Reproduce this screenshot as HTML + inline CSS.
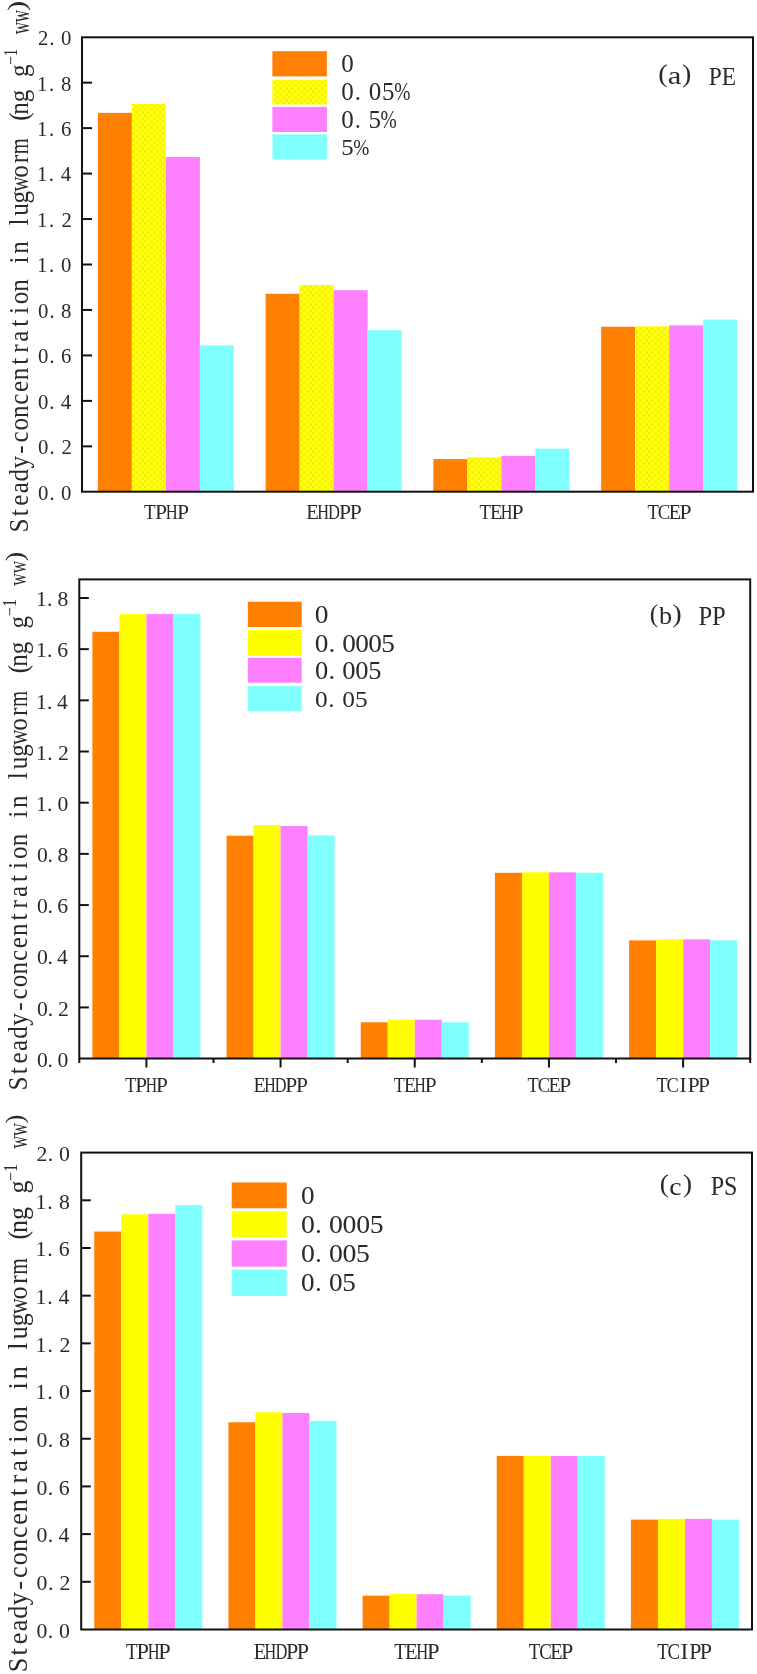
<!DOCTYPE html>
<html><head><meta charset="utf-8"><style>
html,body{margin:0;padding:0;background:#fff;}
body{width:757px;height:1674px;overflow:hidden;font-family:"Liberation Serif",serif;}
svg{display:block;will-change:transform;}
text{font-family:"Liberation Serif",serif;font-kerning:none;}
</style></head><body>
<svg width="757" height="1674" viewBox="0 0 757 1674">
<defs><pattern id="dots" width="6" height="6" patternUnits="userSpaceOnUse"><rect width="6" height="6" fill="#FFFF18"/><rect x="0" y="0" width="3" height="3" fill="#F8F400"/><rect x="3" y="3" width="3" height="3" fill="#F8F400"/></pattern></defs>
<rect width="757" height="1674" fill="#fff"/>
<g font-family="Liberation Serif" fill="#2a2a2a">
<rect x="97.88" y="112.89" width="34.00" height="378.81" fill="#FF8000"/>
<rect x="131.88" y="103.80" width="34.00" height="387.90" fill="url(#dots)"/>
<rect x="165.88" y="156.99" width="34.00" height="334.71" fill="#FF80FF"/>
<rect x="199.88" y="345.42" width="34.00" height="146.28" fill="#80FFFF"/>
<rect x="265.62" y="293.82" width="34.00" height="197.88" fill="#FF8000"/>
<rect x="299.62" y="284.96" width="34.00" height="206.74" fill="url(#dots)"/>
<rect x="333.62" y="290.18" width="34.00" height="201.52" fill="#FF80FF"/>
<rect x="367.62" y="330.19" width="34.00" height="161.51" fill="#80FFFF"/>
<rect x="433.38" y="459.07" width="34.00" height="32.63" fill="#FF8000"/>
<rect x="467.38" y="457.25" width="34.00" height="34.45" fill="url(#dots)"/>
<rect x="501.38" y="455.89" width="34.00" height="35.81" fill="#FF80FF"/>
<rect x="535.38" y="448.61" width="34.00" height="43.09" fill="#80FFFF"/>
<rect x="601.12" y="326.78" width="34.00" height="164.92" fill="#FF8000"/>
<rect x="635.12" y="326.33" width="34.00" height="165.37" fill="url(#dots)"/>
<rect x="669.12" y="325.42" width="34.00" height="166.28" fill="#FF80FF"/>
<rect x="703.12" y="319.51" width="34.00" height="172.19" fill="#80FFFF"/>
<line x1="82.00" y1="446.34" x2="92.00" y2="446.34" stroke="#111" stroke-width="2.0"/>
<line x1="82.00" y1="400.88" x2="92.00" y2="400.88" stroke="#111" stroke-width="2.0"/>
<line x1="82.00" y1="355.42" x2="92.00" y2="355.42" stroke="#111" stroke-width="2.0"/>
<line x1="82.00" y1="309.96" x2="92.00" y2="309.96" stroke="#111" stroke-width="2.0"/>
<line x1="82.00" y1="264.50" x2="92.00" y2="264.50" stroke="#111" stroke-width="2.0"/>
<line x1="82.00" y1="219.04" x2="92.00" y2="219.04" stroke="#111" stroke-width="2.0"/>
<line x1="82.00" y1="173.58" x2="92.00" y2="173.58" stroke="#111" stroke-width="2.0"/>
<line x1="82.00" y1="128.12" x2="92.00" y2="128.12" stroke="#111" stroke-width="2.0"/>
<line x1="82.00" y1="82.66" x2="92.00" y2="82.66" stroke="#111" stroke-width="2.0"/>
<rect x="82.00" y="37.30" width="671.00" height="454.40" fill="none" stroke="#111" stroke-width="2.0"/>
<rect x="272.40" y="51.20" width="54.50" height="25.20" fill="#FF8000"/>
<rect x="272.40" y="79.70" width="54.50" height="24.80" fill="url(#dots)"/>
<rect x="272.40" y="106.90" width="54.50" height="25.10" fill="#FF80FF"/>
<rect x="272.40" y="134.30" width="54.50" height="25.20" fill="#80FFFF"/>
<text transform="translate(341.25,71.96) scale(1.030,1)" font-size="24.30">0</text>
<text transform="translate(341.25,99.96) scale(1.030,1)" font-size="24.30">0</text>
<text transform="translate(354.79,99.96) scale(1.030,1)" font-size="24.30">.</text>
<text transform="translate(368.65,99.96) scale(1.030,1)" font-size="24.30">0</text>
<text transform="translate(382.11,99.96) scale(1.030,1)" font-size="24.30">5</text>
<text transform="translate(394.17,99.96) scale(0.803,1)" font-size="24.30">%</text>
<text transform="translate(341.25,127.96) scale(1.030,1)" font-size="24.30">0</text>
<text transform="translate(354.79,127.96) scale(1.030,1)" font-size="24.30">.</text>
<text transform="translate(368.41,127.96) scale(1.030,1)" font-size="24.30">5</text>
<text transform="translate(380.47,127.96) scale(0.803,1)" font-size="24.30">%</text>
<text transform="translate(341.26,155.27) scale(1.030,1)" font-size="24.01">5</text>
<text transform="translate(353.35,155.27) scale(0.803,1)" font-size="24.01">%</text>
<text x="38.01" y="499.70" font-size="20.75">0</text>
<text x="49.38" y="499.70" font-size="20.75">.</text>
<text x="61.12" y="499.70" font-size="20.75">0</text>
<text x="38.01" y="454.24" font-size="20.75">0</text>
<text x="49.47" y="454.24" font-size="20.75">.</text>
<text x="61.47" y="454.24" font-size="20.75">2</text>
<text x="38.01" y="408.78" font-size="20.75">0</text>
<text x="49.22" y="408.78" font-size="20.75">.</text>
<text x="60.65" y="408.78" font-size="20.75">4</text>
<text x="38.01" y="363.32" font-size="20.75">0</text>
<text x="49.37" y="363.32" font-size="20.75">.</text>
<text x="60.94" y="363.32" font-size="20.75">6</text>
<text x="38.01" y="317.86" font-size="20.75">0</text>
<text x="49.38" y="317.86" font-size="20.75">.</text>
<text x="61.12" y="317.86" font-size="20.75">8</text>
<text x="36.98" y="272.40" font-size="20.75">1</text>
<text x="48.92" y="272.40" font-size="20.75">.</text>
<text x="61.12" y="272.40" font-size="20.75">0</text>
<text x="36.98" y="226.94" font-size="20.75">1</text>
<text x="49.01" y="226.94" font-size="20.75">.</text>
<text x="61.47" y="226.94" font-size="20.75">2</text>
<text x="36.98" y="181.48" font-size="20.75">1</text>
<text x="48.76" y="181.48" font-size="20.75">.</text>
<text x="60.65" y="181.48" font-size="20.75">4</text>
<text x="36.98" y="136.02" font-size="20.75">1</text>
<text x="48.91" y="136.02" font-size="20.75">.</text>
<text x="60.94" y="136.02" font-size="20.75">6</text>
<text x="36.98" y="90.56" font-size="20.75">1</text>
<text x="48.92" y="90.56" font-size="20.75">.</text>
<text x="61.12" y="90.56" font-size="20.75">8</text>
<text x="37.89" y="45.10" font-size="20.75">2</text>
<text x="49.24" y="45.10" font-size="20.75">.</text>
<text x="61.12" y="45.10" font-size="20.75">0</text>
<text transform="translate(143.95,519.10) scale(0.881,1)" font-size="21.69">T</text>
<text transform="translate(154.90,519.10) scale(1.000,1)" font-size="21.69">P</text>
<text transform="translate(165.83,519.10) scale(0.764,1)" font-size="21.69">H</text>
<text transform="translate(176.91,519.10) scale(1.000,1)" font-size="21.69">P</text>
<text transform="translate(306.31,519.10) scale(0.940,1)" font-size="21.69">E</text>
<text transform="translate(317.28,519.10) scale(0.753,1)" font-size="21.69">H</text>
<text transform="translate(328.12,519.10) scale(0.766,1)" font-size="21.69">D</text>
<text transform="translate(338.96,519.10) scale(1.000,1)" font-size="21.69">P</text>
<text transform="translate(349.81,519.10) scale(1.000,1)" font-size="21.69">P</text>
<text transform="translate(479.56,519.10) scale(0.858,1)" font-size="21.69">T</text>
<text transform="translate(490.04,519.10) scale(0.929,1)" font-size="21.69">E</text>
<text transform="translate(500.87,519.10) scale(0.744,1)" font-size="21.69">H</text>
<text transform="translate(511.51,519.10) scale(1.000,1)" font-size="21.69">P</text>
<text transform="translate(647.56,519.10) scale(0.858,1)" font-size="21.69">T</text>
<text transform="translate(657.85,519.10) scale(0.866,1)" font-size="21.69">C</text>
<text transform="translate(668.76,519.10) scale(0.929,1)" font-size="21.69">E</text>
<text transform="translate(679.51,519.10) scale(1.000,1)" font-size="21.69">P</text>
<text transform="translate(658.35,82.38) scale(1.1157,1)" font-size="25.48">(</text>
<text transform="translate(667.72,84.35) scale(1.1929,1)" font-size="25.68">a</text>
<text transform="translate(681.90,82.38) scale(1.1004,1)" font-size="25.48">)</text>
<text transform="translate(708.83,85.20) scale(0.9024,1)" font-size="25.96">PE</text>
<g transform="translate(27.70,531.76) rotate(-90)">
<text transform="translate(-0.72,0) scale(0.930,1)" font-size="27.00">S</text>
<text transform="translate(15.42,0) scale(0.930,1)" font-size="27.00">t</text>
<text transform="translate(25.97,0) scale(0.930,1)" font-size="27.00">e</text>
<text transform="translate(38.40,0) scale(0.930,1)" font-size="27.00">a</text>
<text transform="translate(50.30,0) scale(0.930,1)" font-size="27.00">d</text>
<text transform="translate(63.14,0) scale(0.930,1)" font-size="27.00">y</text>
<text transform="translate(77.97,0) scale(0.930,1)" font-size="27.00">-</text>
<text transform="translate(89.14,0) scale(0.930,1)" font-size="27.00">c</text>
<text transform="translate(101.16,0) scale(0.930,1)" font-size="27.00">o</text>
<text transform="translate(113.70,0) scale(0.930,1)" font-size="27.00">n</text>
<text transform="translate(127.06,0) scale(0.930,1)" font-size="27.00">c</text>
<text transform="translate(139.73,0) scale(0.930,1)" font-size="27.00">e</text>
<text transform="translate(151.62,0) scale(0.930,1)" font-size="27.00">n</text>
<text transform="translate(167.10,0) scale(0.930,1)" font-size="27.00">t</text>
<text transform="translate(178.96,0) scale(0.930,1)" font-size="27.00">r</text>
<text transform="translate(190.08,0) scale(0.930,1)" font-size="27.00">a</text>
<text transform="translate(205.02,0) scale(0.930,1)" font-size="27.00">t</text>
<text transform="translate(217.69,0) scale(0.930,1)" font-size="27.00">i</text>
<text transform="translate(227.56,0) scale(0.930,1)" font-size="27.00">o</text>
<text transform="translate(240.10,0) scale(0.930,1)" font-size="27.00">n</text>
<text transform="translate(268.25,0) scale(0.930,1)" font-size="27.00">i</text>
<text transform="translate(278.02,0) scale(0.930,1)" font-size="27.00">n</text>
<text transform="translate(306.19,0) scale(0.930,1)" font-size="27.00">l</text>
<text transform="translate(316.09,0) scale(0.930,1)" font-size="27.00">u</text>
<text transform="translate(328.38,0) scale(0.930,1)" font-size="27.00">g</text>
<text transform="translate(340.00,0) scale(0.784,1)" font-size="27.00">w</text>
<text transform="translate(353.96,0) scale(0.930,1)" font-size="27.00">o</text>
<text transform="translate(368.56,0) scale(0.930,1)" font-size="27.00">r</text>
<text transform="translate(377.51,0) scale(0.758,1)" font-size="27.00">m</text>
<text transform="translate(410.90,0) scale(0.930,1)" font-size="27.00">(</text>
<text transform="translate(417.06,0) scale(0.930,1)" font-size="27.00">n</text>
<text transform="translate(429.50,0) scale(0.930,1)" font-size="27.00">g</text>
<text transform="translate(454.78,0) scale(0.930,1)" font-size="27.00">g</text>
</g>
<text transform="translate(17.40,64.75) rotate(-90) scale(0.8190,1)" font-size="18.30">−1</text>
<text transform="translate(28.50,34.32) rotate(-90) scale(0.6152,1)" font-size="27.45">ww</text>
<text transform="translate(25.04,10.99) rotate(-90) scale(1.1768,1)" font-size="26.14">)</text>
<rect x="92.39" y="631.76" width="27.00" height="426.74" fill="#FF8000"/>
<rect x="119.39" y="614.10" width="27.00" height="444.40" fill="#FFFF00"/>
<rect x="146.39" y="614.10" width="27.00" height="444.40" fill="#FF80FF"/>
<rect x="173.39" y="614.10" width="27.00" height="444.40" fill="#80FFFF"/>
<rect x="226.57" y="835.71" width="27.00" height="222.79" fill="#FF8000"/>
<rect x="253.57" y="824.96" width="27.00" height="233.54" fill="#FFFF00"/>
<rect x="280.57" y="825.99" width="27.00" height="232.51" fill="#FF80FF"/>
<rect x="307.57" y="835.46" width="27.00" height="223.04" fill="#80FFFF"/>
<rect x="360.75" y="1022.26" width="27.00" height="36.24" fill="#FF8000"/>
<rect x="387.75" y="1019.70" width="27.00" height="38.80" fill="#FFFF00"/>
<rect x="414.75" y="1019.70" width="27.00" height="38.80" fill="#FF80FF"/>
<rect x="441.75" y="1022.26" width="27.00" height="36.24" fill="#80FFFF"/>
<rect x="494.93" y="872.82" width="27.00" height="185.68" fill="#FF8000"/>
<rect x="521.93" y="872.30" width="27.00" height="186.20" fill="#FFFF00"/>
<rect x="548.93" y="872.30" width="27.00" height="186.20" fill="#FF80FF"/>
<rect x="575.93" y="872.82" width="27.00" height="185.68" fill="#80FFFF"/>
<rect x="629.11" y="940.37" width="27.00" height="118.13" fill="#FF8000"/>
<rect x="656.11" y="939.35" width="27.00" height="119.15" fill="#FFFF00"/>
<rect x="683.11" y="939.35" width="27.00" height="119.15" fill="#FF80FF"/>
<rect x="710.11" y="940.37" width="27.00" height="118.13" fill="#80FFFF"/>
<line x1="79.30" y1="1007.42" x2="88.80" y2="1007.42" stroke="#111" stroke-width="2.0"/>
<line x1="79.30" y1="956.24" x2="88.80" y2="956.24" stroke="#111" stroke-width="2.0"/>
<line x1="79.30" y1="905.06" x2="88.80" y2="905.06" stroke="#111" stroke-width="2.0"/>
<line x1="79.30" y1="853.88" x2="88.80" y2="853.88" stroke="#111" stroke-width="2.0"/>
<line x1="79.30" y1="802.70" x2="88.80" y2="802.70" stroke="#111" stroke-width="2.0"/>
<line x1="79.30" y1="751.52" x2="88.80" y2="751.52" stroke="#111" stroke-width="2.0"/>
<line x1="79.30" y1="700.34" x2="88.80" y2="700.34" stroke="#111" stroke-width="2.0"/>
<line x1="79.30" y1="649.16" x2="88.80" y2="649.16" stroke="#111" stroke-width="2.0"/>
<line x1="79.30" y1="597.98" x2="88.80" y2="597.98" stroke="#111" stroke-width="2.0"/>
<line x1="79.30" y1="1058.50" x2="79.30" y2="1063.00" stroke="#111" stroke-width="2.0"/>
<line x1="213.48" y1="1058.50" x2="213.48" y2="1063.00" stroke="#111" stroke-width="2.0"/>
<line x1="347.66" y1="1058.50" x2="347.66" y2="1063.00" stroke="#111" stroke-width="2.0"/>
<line x1="481.84" y1="1058.50" x2="481.84" y2="1063.00" stroke="#111" stroke-width="2.0"/>
<line x1="616.02" y1="1058.50" x2="616.02" y2="1063.00" stroke="#111" stroke-width="2.0"/>
<line x1="750.20" y1="1058.50" x2="750.20" y2="1063.00" stroke="#111" stroke-width="2.0"/>
<line x1="146.39" y1="1058.50" x2="146.39" y2="1067.50" stroke="#111" stroke-width="2.0"/>
<line x1="280.57" y1="1058.50" x2="280.57" y2="1067.50" stroke="#111" stroke-width="2.0"/>
<line x1="414.75" y1="1058.50" x2="414.75" y2="1067.50" stroke="#111" stroke-width="2.0"/>
<line x1="548.93" y1="1058.50" x2="548.93" y2="1067.50" stroke="#111" stroke-width="2.0"/>
<line x1="683.11" y1="1058.50" x2="683.11" y2="1067.50" stroke="#111" stroke-width="2.0"/>
<rect x="79.30" y="579.40" width="670.90" height="479.10" fill="none" stroke="#111" stroke-width="2.0"/>
<rect x="247.80" y="601.70" width="53.90" height="25.30" fill="#FF8000"/>
<rect x="247.80" y="630.00" width="53.90" height="25.80" fill="#FFFF00"/>
<rect x="247.80" y="657.80" width="53.90" height="24.90" fill="#FF80FF"/>
<rect x="247.80" y="686.10" width="53.90" height="25.20" fill="#80FFFF"/>
<text transform="translate(314.85,623.05) scale(1.060,1)" font-size="25.93">0</text>
<text transform="translate(314.86,651.55) scale(1.060,1)" font-size="25.79">0</text>
<text transform="translate(328.52,651.55) scale(1.060,1)" font-size="25.79">.</text>
<text transform="translate(342.16,651.55) scale(1.060,1)" font-size="25.79">0</text>
<text transform="translate(355.26,651.55) scale(1.060,1)" font-size="25.79">0</text>
<text transform="translate(368.36,651.55) scale(1.060,1)" font-size="25.79">0</text>
<text transform="translate(381.20,651.55) scale(1.060,1)" font-size="25.79">5</text>
<text transform="translate(314.89,678.96) scale(1.060,1)" font-size="25.04">0</text>
<text transform="translate(328.45,678.96) scale(1.060,1)" font-size="25.04">.</text>
<text transform="translate(342.19,678.96) scale(1.060,1)" font-size="25.04">0</text>
<text transform="translate(355.29,678.96) scale(1.060,1)" font-size="25.04">0</text>
<text transform="translate(368.14,678.96) scale(1.060,1)" font-size="25.04">5</text>
<text transform="translate(314.93,706.87) scale(1.060,1)" font-size="24.01">0</text>
<text transform="translate(328.35,706.87) scale(1.060,1)" font-size="24.01">.</text>
<text transform="translate(342.23,706.87) scale(1.060,1)" font-size="24.01">0</text>
<text transform="translate(355.09,706.87) scale(1.060,1)" font-size="24.01">5</text>
<text x="37.08" y="1066.79" font-size="21.64">0</text>
<text x="47.54" y="1066.79" font-size="21.64">.</text>
<text x="57.51" y="1066.79" font-size="21.64">0</text>
<text x="37.08" y="1015.61" font-size="21.64">0</text>
<text x="47.64" y="1015.61" font-size="21.64">.</text>
<text x="57.88" y="1015.61" font-size="21.64">2</text>
<text x="37.08" y="964.43" font-size="21.64">0</text>
<text x="47.38" y="964.43" font-size="21.64">.</text>
<text x="57.02" y="964.43" font-size="21.64">4</text>
<text x="37.08" y="913.25" font-size="21.64">0</text>
<text x="47.53" y="913.25" font-size="21.64">.</text>
<text x="57.33" y="913.25" font-size="21.64">6</text>
<text x="37.08" y="862.07" font-size="21.64">0</text>
<text x="47.54" y="862.07" font-size="21.64">.</text>
<text x="57.51" y="862.07" font-size="21.64">8</text>
<text x="36.00" y="810.89" font-size="21.64">1</text>
<text x="47.06" y="810.89" font-size="21.64">.</text>
<text x="57.51" y="810.89" font-size="21.64">0</text>
<text x="36.00" y="759.71" font-size="21.64">1</text>
<text x="47.16" y="759.71" font-size="21.64">.</text>
<text x="57.88" y="759.71" font-size="21.64">2</text>
<text x="36.00" y="708.53" font-size="21.64">1</text>
<text x="46.89" y="708.53" font-size="21.64">.</text>
<text x="57.02" y="708.53" font-size="21.64">4</text>
<text x="36.00" y="657.35" font-size="21.64">1</text>
<text x="47.05" y="657.35" font-size="21.64">.</text>
<text x="57.33" y="657.35" font-size="21.64">6</text>
<text x="36.00" y="606.17" font-size="21.64">1</text>
<text x="47.06" y="606.17" font-size="21.64">.</text>
<text x="57.51" y="606.17" font-size="21.64">8</text>
<text transform="translate(125.17,1091.80) scale(0.838,1)" font-size="21.53">T</text>
<text transform="translate(135.29,1091.80) scale(0.991,1)" font-size="21.53">P</text>
<text transform="translate(145.85,1091.80) scale(0.727,1)" font-size="21.53">H</text>
<text transform="translate(156.09,1091.80) scale(0.991,1)" font-size="21.53">P</text>
<text transform="translate(253.42,1091.80) scale(0.928,1)" font-size="21.53">E</text>
<text transform="translate(264.17,1091.80) scale(0.744,1)" font-size="21.53">H</text>
<text transform="translate(274.80,1091.80) scale(0.756,1)" font-size="21.53">D</text>
<text transform="translate(285.35,1091.80) scale(1.000,1)" font-size="21.53">P</text>
<text transform="translate(295.99,1091.80) scale(1.000,1)" font-size="21.53">P</text>
<text transform="translate(393.77,1091.80) scale(0.838,1)" font-size="21.53">T</text>
<text transform="translate(403.94,1091.80) scale(0.907,1)" font-size="21.53">E</text>
<text transform="translate(414.45,1091.80) scale(0.727,1)" font-size="21.53">H</text>
<text transform="translate(424.69,1091.80) scale(0.991,1)" font-size="21.53">P</text>
<text transform="translate(527.57,1091.80) scale(0.856,1)" font-size="21.53">T</text>
<text transform="translate(537.75,1091.80) scale(0.864,1)" font-size="21.53">C</text>
<text transform="translate(548.56,1091.80) scale(0.926,1)" font-size="21.53">E</text>
<text transform="translate(559.19,1091.80) scale(1.000,1)" font-size="21.53">P</text>
<text transform="translate(656.57,1091.80) scale(0.843,1)" font-size="21.53">T</text>
<text transform="translate(666.61,1091.80) scale(0.851,1)" font-size="21.53">C</text>
<text transform="translate(679.45,1091.80) scale(1.000,1)" font-size="21.53">I</text>
<text transform="translate(687.66,1091.80) scale(0.997,1)" font-size="21.53">P</text>
<text transform="translate(698.12,1091.80) scale(0.997,1)" font-size="21.53">P</text>
<text transform="translate(649.87,621.82) scale(1.0175,1)" font-size="25.26">(</text>
<text transform="translate(658.90,624.35) scale(1.0413,1)" font-size="25.16">b</text>
<text transform="translate(672.28,621.82) scale(1.1254,1)" font-size="25.26">)</text>
<text transform="translate(698.39,624.90) scale(0.8910,1)" font-size="27.64">PP</text>
<g transform="translate(26.80,1089.95) rotate(-90)">
<text transform="translate(-0.63,0) scale(0.930,1)" font-size="27.00">S</text>
<text transform="translate(15.69,0) scale(0.930,1)" font-size="27.00">t</text>
<text transform="translate(26.42,0) scale(0.930,1)" font-size="27.00">e</text>
<text transform="translate(39.03,0) scale(0.930,1)" font-size="27.00">a</text>
<text transform="translate(51.11,0) scale(0.930,1)" font-size="27.00">d</text>
<text transform="translate(64.13,0) scale(0.930,1)" font-size="27.00">y</text>
<text transform="translate(79.14,0) scale(0.930,1)" font-size="27.00">-</text>
<text transform="translate(90.49,0) scale(0.930,1)" font-size="27.00">c</text>
<text transform="translate(102.69,0) scale(0.930,1)" font-size="27.00">o</text>
<text transform="translate(115.41,0) scale(0.930,1)" font-size="27.00">n</text>
<text transform="translate(128.95,0) scale(0.930,1)" font-size="27.00">c</text>
<text transform="translate(141.80,0) scale(0.930,1)" font-size="27.00">e</text>
<text transform="translate(153.87,0) scale(0.930,1)" font-size="27.00">n</text>
<text transform="translate(169.53,0) scale(0.930,1)" font-size="27.00">t</text>
<text transform="translate(181.57,0) scale(0.930,1)" font-size="27.00">r</text>
<text transform="translate(192.87,0) scale(0.930,1)" font-size="27.00">a</text>
<text transform="translate(207.99,0) scale(0.930,1)" font-size="27.00">t</text>
<text transform="translate(220.84,0) scale(0.930,1)" font-size="27.00">i</text>
<text transform="translate(230.89,0) scale(0.930,1)" font-size="27.00">o</text>
<text transform="translate(243.61,0) scale(0.930,1)" font-size="27.00">n</text>
<text transform="translate(272.12,0) scale(0.930,1)" font-size="27.00">i</text>
<text transform="translate(282.07,0) scale(0.930,1)" font-size="27.00">n</text>
<text transform="translate(310.60,0) scale(0.930,1)" font-size="27.00">l</text>
<text transform="translate(320.68,0) scale(0.930,1)" font-size="27.00">u</text>
<text transform="translate(333.15,0) scale(0.930,1)" font-size="27.00">g</text>
<text transform="translate(344.84,0) scale(0.795,1)" font-size="27.00">w</text>
<text transform="translate(359.09,0) scale(0.930,1)" font-size="27.00">o</text>
<text transform="translate(373.87,0) scale(0.930,1)" font-size="27.00">r</text>
<text transform="translate(382.88,0) scale(0.769,1)" font-size="27.00">m</text>
<text transform="translate(416.81,0) scale(0.930,1)" font-size="27.00">(</text>
<text transform="translate(423.09,0) scale(0.930,1)" font-size="27.00">n</text>
<text transform="translate(435.71,0) scale(0.930,1)" font-size="27.00">g</text>
<text transform="translate(461.35,0) scale(0.930,1)" font-size="27.00">g</text>
</g>
<text transform="translate(16.40,616.10) rotate(-90) scale(0.8763,1)" font-size="18.30">−1</text>
<text transform="translate(26.40,585.72) rotate(-90) scale(0.6819,1)" font-size="25.27">ww</text>
<text transform="translate(23.44,561.23) rotate(-90) scale(1.1023,1)" font-size="26.14">)</text>
<rect x="94.28" y="1231.53" width="27.00" height="397.97" fill="#FF8000"/>
<rect x="121.28" y="1214.36" width="27.00" height="415.14" fill="#FFFF00"/>
<rect x="148.28" y="1213.88" width="27.00" height="415.62" fill="#FF80FF"/>
<rect x="175.28" y="1205.06" width="27.00" height="424.44" fill="#80FFFF"/>
<rect x="228.44" y="1422.29" width="27.00" height="207.21" fill="#FF8000"/>
<rect x="255.44" y="1412.27" width="27.00" height="217.23" fill="#FFFF00"/>
<rect x="282.44" y="1412.99" width="27.00" height="216.51" fill="#FF80FF"/>
<rect x="309.44" y="1420.86" width="27.00" height="208.64" fill="#80FFFF"/>
<rect x="362.60" y="1595.64" width="27.00" height="33.86" fill="#FF8000"/>
<rect x="389.60" y="1593.73" width="27.00" height="35.77" fill="#FFFF00"/>
<rect x="416.60" y="1594.21" width="27.00" height="35.29" fill="#FF80FF"/>
<rect x="443.60" y="1595.64" width="27.00" height="33.86" fill="#80FFFF"/>
<rect x="496.76" y="1455.91" width="27.00" height="173.59" fill="#FF8000"/>
<rect x="523.76" y="1455.91" width="27.00" height="173.59" fill="#FFFF00"/>
<rect x="550.76" y="1455.91" width="27.00" height="173.59" fill="#FF80FF"/>
<rect x="577.76" y="1455.91" width="27.00" height="173.59" fill="#80FFFF"/>
<rect x="630.92" y="1519.57" width="27.00" height="109.93" fill="#FF8000"/>
<rect x="657.92" y="1518.86" width="27.00" height="110.64" fill="#FFFF00"/>
<rect x="684.92" y="1518.86" width="27.00" height="110.64" fill="#FF80FF"/>
<rect x="711.92" y="1519.57" width="27.00" height="109.93" fill="#80FFFF"/>
<line x1="81.20" y1="1581.81" x2="90.80" y2="1581.81" stroke="#111" stroke-width="2.0"/>
<line x1="81.20" y1="1534.12" x2="90.80" y2="1534.12" stroke="#111" stroke-width="2.0"/>
<line x1="81.20" y1="1486.43" x2="90.80" y2="1486.43" stroke="#111" stroke-width="2.0"/>
<line x1="81.20" y1="1438.74" x2="90.80" y2="1438.74" stroke="#111" stroke-width="2.0"/>
<line x1="81.20" y1="1391.05" x2="90.80" y2="1391.05" stroke="#111" stroke-width="2.0"/>
<line x1="81.20" y1="1343.36" x2="90.80" y2="1343.36" stroke="#111" stroke-width="2.0"/>
<line x1="81.20" y1="1295.67" x2="90.80" y2="1295.67" stroke="#111" stroke-width="2.0"/>
<line x1="81.20" y1="1247.98" x2="90.80" y2="1247.98" stroke="#111" stroke-width="2.0"/>
<line x1="81.20" y1="1200.29" x2="90.80" y2="1200.29" stroke="#111" stroke-width="2.0"/>
<rect x="81.20" y="1152.60" width="670.80" height="476.90" fill="none" stroke="#111" stroke-width="2.0"/>
<rect x="231.70" y="1182.50" width="55.00" height="25.80" fill="#FF8000"/>
<rect x="231.70" y="1211.20" width="55.00" height="26.30" fill="#FFFF00"/>
<rect x="231.70" y="1240.40" width="55.00" height="26.30" fill="#FF80FF"/>
<rect x="231.70" y="1269.60" width="55.00" height="26.30" fill="#80FFFF"/>
<text transform="translate(300.97,1204.05) scale(1.060,1)" font-size="25.64">0</text>
<text transform="translate(300.94,1233.04) scale(1.060,1)" font-size="26.23">0</text>
<text transform="translate(314.97,1233.04) scale(1.060,1)" font-size="26.23">.</text>
<text transform="translate(328.94,1233.04) scale(1.060,1)" font-size="26.23">0</text>
<text transform="translate(342.59,1233.04) scale(1.060,1)" font-size="26.23">0</text>
<text transform="translate(356.24,1233.04) scale(1.060,1)" font-size="26.23">0</text>
<text transform="translate(369.63,1233.04) scale(1.060,1)" font-size="26.23">5</text>
<text transform="translate(300.94,1262.44) scale(1.060,1)" font-size="26.23">0</text>
<text transform="translate(314.97,1262.44) scale(1.060,1)" font-size="26.23">.</text>
<text transform="translate(328.94,1262.44) scale(1.060,1)" font-size="26.23">0</text>
<text transform="translate(342.59,1262.44) scale(1.060,1)" font-size="26.23">0</text>
<text transform="translate(355.98,1262.44) scale(1.060,1)" font-size="26.23">5</text>
<text transform="translate(300.97,1291.05) scale(1.060,1)" font-size="25.64">0</text>
<text transform="translate(314.92,1291.05) scale(1.060,1)" font-size="25.64">.</text>
<text transform="translate(328.97,1291.05) scale(1.060,1)" font-size="25.64">0</text>
<text transform="translate(342.36,1291.05) scale(1.060,1)" font-size="25.64">5</text>
<text x="36.57" y="1637.74" font-size="21.78">0</text>
<text x="47.83" y="1637.74" font-size="21.78">.</text>
<text x="59.04" y="1637.74" font-size="21.78">0</text>
<text x="36.57" y="1590.05" font-size="21.78">0</text>
<text x="47.93" y="1590.05" font-size="21.78">.</text>
<text x="59.41" y="1590.05" font-size="21.78">2</text>
<text x="36.57" y="1542.36" font-size="21.78">0</text>
<text x="47.66" y="1542.36" font-size="21.78">.</text>
<text x="58.55" y="1542.36" font-size="21.78">4</text>
<text x="36.57" y="1494.67" font-size="21.78">0</text>
<text x="47.82" y="1494.67" font-size="21.78">.</text>
<text x="58.86" y="1494.67" font-size="21.78">6</text>
<text x="36.57" y="1446.98" font-size="21.78">0</text>
<text x="47.83" y="1446.98" font-size="21.78">.</text>
<text x="59.04" y="1446.98" font-size="21.78">8</text>
<text x="35.49" y="1399.29" font-size="21.78">1</text>
<text x="47.35" y="1399.29" font-size="21.78">.</text>
<text x="59.04" y="1399.29" font-size="21.78">0</text>
<text x="35.49" y="1351.60" font-size="21.78">1</text>
<text x="47.44" y="1351.60" font-size="21.78">.</text>
<text x="59.41" y="1351.60" font-size="21.78">2</text>
<text x="35.49" y="1303.91" font-size="21.78">1</text>
<text x="47.18" y="1303.91" font-size="21.78">.</text>
<text x="58.55" y="1303.91" font-size="21.78">4</text>
<text x="35.49" y="1256.22" font-size="21.78">1</text>
<text x="47.33" y="1256.22" font-size="21.78">.</text>
<text x="58.86" y="1256.22" font-size="21.78">6</text>
<text x="35.49" y="1208.53" font-size="21.78">1</text>
<text x="47.35" y="1208.53" font-size="21.78">.</text>
<text x="59.04" y="1208.53" font-size="21.78">8</text>
<text x="36.44" y="1160.84" font-size="21.78">2</text>
<text x="47.68" y="1160.84" font-size="21.78">.</text>
<text x="59.04" y="1160.84" font-size="21.78">0</text>
<text transform="translate(125.96,1658.90) scale(0.810,1)" font-size="23.37">T</text>
<text transform="translate(136.56,1658.90) scale(0.957,1)" font-size="23.37">P</text>
<text transform="translate(147.63,1658.90) scale(0.702,1)" font-size="23.37">H</text>
<text transform="translate(158.36,1658.90) scale(0.957,1)" font-size="23.37">P</text>
<text transform="translate(253.72,1658.90) scale(0.867,1)" font-size="23.37">E</text>
<text transform="translate(264.61,1658.90) scale(0.695,1)" font-size="23.37">H</text>
<text transform="translate(275.38,1658.90) scale(0.706,1)" font-size="23.37">D</text>
<text transform="translate(286.00,1658.90) scale(0.947,1)" font-size="23.37">P</text>
<text transform="translate(296.78,1658.90) scale(0.947,1)" font-size="23.37">P</text>
<text transform="translate(394.36,1658.90) scale(0.817,1)" font-size="23.37">T</text>
<text transform="translate(405.10,1658.90) scale(0.885,1)" font-size="23.37">E</text>
<text transform="translate(416.22,1658.90) scale(0.709,1)" font-size="23.37">H</text>
<text transform="translate(427.05,1658.90) scale(0.966,1)" font-size="23.37">P</text>
<text transform="translate(528.86,1658.90) scale(0.800,1)" font-size="23.37">T</text>
<text transform="translate(539.20,1658.90) scale(0.808,1)" font-size="23.37">C</text>
<text transform="translate(550.17,1658.90) scale(0.866,1)" font-size="23.37">E</text>
<text transform="translate(560.89,1658.90) scale(0.946,1)" font-size="23.37">P</text>
<text transform="translate(657.26,1658.90) scale(0.796,1)" font-size="23.37">T</text>
<text transform="translate(667.55,1658.90) scale(0.804,1)" font-size="23.37">C</text>
<text transform="translate(680.50,1658.90) scale(1.000,1)" font-size="23.37">I</text>
<text transform="translate(689.13,1658.90) scale(0.941,1)" font-size="23.37">P</text>
<text transform="translate(699.85,1658.90) scale(0.941,1)" font-size="23.37">P</text>
<text transform="translate(659.80,1191.98) scale(1.0516,1)" font-size="25.92">(</text>
<text transform="translate(669.14,1194.75) scale(1.0757,1)" font-size="25.78">c</text>
<text transform="translate(682.92,1191.98) scale(1.0516,1)" font-size="25.92">)</text>
<text transform="translate(710.71,1195.20) scale(0.8570,1)" font-size="28.10">PS</text>
<g transform="translate(27.00,1671.66) rotate(-90)">
<text transform="translate(-0.68,0) scale(0.950,1)" font-size="27.50">S</text>
<text transform="translate(16.25,0) scale(0.950,1)" font-size="27.50">t</text>
<text transform="translate(27.37,0) scale(0.950,1)" font-size="27.50">e</text>
<text transform="translate(40.44,0) scale(0.950,1)" font-size="27.50">a</text>
<text transform="translate(52.96,0) scale(0.950,1)" font-size="27.50">d</text>
<text transform="translate(66.46,0) scale(0.950,1)" font-size="27.50">y</text>
<text transform="translate(82.02,0) scale(0.950,1)" font-size="27.50">-</text>
<text transform="translate(93.78,0) scale(0.950,1)" font-size="27.50">c</text>
<text transform="translate(106.43,0) scale(0.950,1)" font-size="27.50">o</text>
<text transform="translate(119.62,0) scale(0.950,1)" font-size="27.50">n</text>
<text transform="translate(133.65,0) scale(0.950,1)" font-size="27.50">c</text>
<text transform="translate(146.98,0) scale(0.950,1)" font-size="27.50">e</text>
<text transform="translate(159.49,0) scale(0.950,1)" font-size="27.50">n</text>
<text transform="translate(175.73,0) scale(0.950,1)" font-size="27.50">t</text>
<text transform="translate(188.21,0) scale(0.950,1)" font-size="27.50">r</text>
<text transform="translate(199.92,0) scale(0.950,1)" font-size="27.50">a</text>
<text transform="translate(215.60,0) scale(0.950,1)" font-size="27.50">t</text>
<text transform="translate(228.92,0) scale(0.950,1)" font-size="27.50">i</text>
<text transform="translate(239.33,0) scale(0.950,1)" font-size="27.50">o</text>
<text transform="translate(252.52,0) scale(0.950,1)" font-size="27.50">n</text>
<text transform="translate(282.08,0) scale(0.950,1)" font-size="27.50">i</text>
<text transform="translate(292.39,0) scale(0.950,1)" font-size="27.50">n</text>
<text transform="translate(321.98,0) scale(0.950,1)" font-size="27.50">l</text>
<text transform="translate(332.41,0) scale(0.950,1)" font-size="27.50">u</text>
<text transform="translate(345.34,0) scale(0.950,1)" font-size="27.50">g</text>
<text transform="translate(357.48,0) scale(0.809,1)" font-size="27.50">w</text>
<text transform="translate(372.23,0) scale(0.950,1)" font-size="27.50">o</text>
<text transform="translate(387.56,0) scale(0.950,1)" font-size="27.50">r</text>
<text transform="translate(396.92,0) scale(0.782,1)" font-size="27.50">m</text>
<text transform="translate(432.07,0) scale(0.950,1)" font-size="27.50">(</text>
<text transform="translate(438.58,0) scale(0.950,1)" font-size="27.50">n</text>
<text transform="translate(451.66,0) scale(0.950,1)" font-size="27.50">g</text>
<text transform="translate(478.24,0) scale(0.950,1)" font-size="27.50">g</text>
</g>
<text transform="translate(16.50,1181.10) rotate(-90) scale(0.8763,1)" font-size="18.30">−1</text>
<text transform="translate(27.00,1148.62) rotate(-90) scale(0.6641,1)" font-size="26.58">ww</text>
<text transform="translate(23.17,1123.57) rotate(-90) scale(1.0731,1)" font-size="25.03">)</text>
</g></svg>
</body></html>
